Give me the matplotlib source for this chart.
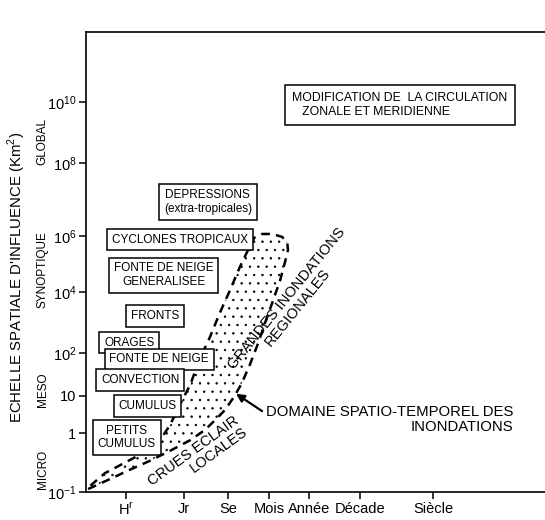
import numpy as np
import matplotlib
matplotlib.use("Agg")
import matplotlib.pyplot as plt
import matplotlib.transforms as mtransforms

plt.rcParams['font.family'] = ['Liberation Sans', 'DejaVu Sans']
plt.rcParams['hatch.linewidth'] = 0.5

# ---------------------------------------------------------------------------
# Data
# ---------------------------------------------------------------------------
# time axis: durations in hours, plotted as log10(h)
time_labels = [r'H$^{\mathregular{r}}$', 'Jr', 'Se', 'Mois', 'Année', 'Décade', 'Siècle']
time_hours = [1, 24, 168, 720, 8760, 87600, 876000]

# space axis: exponent of the area (km2)
space_exps = [-1, 0, 1, 2, 4, 6, 8, 10]
space_labels = [r'$\mathregular{10^{-1}}$', '1', '10', r'$\mathregular{10^{2}}$',
                r'$\mathregular{10^{4}}$', r'$\mathregular{10^{6}}$',
                r'$\mathregular{10^{8}}$', r'$\mathregular{10^{10}}$']
scale_names = ['GLOBAL', 'SYNOPTIQUE', 'MESO', 'MICRO']
scale_exps = [8.69, 4.79, 1.14, -0.62]

# the hand-drawn axes are irregular: where each tick sits along the axis (fraction)
x_limits = [-0.95, 7.48]
x_drawn = [0.0, 0.087, 0.2135, 0.309, 0.399, 0.486, 0.597, 0.756, 1.0]
y_limits = [-1, 12.33]
y_drawn = [0.0, 0.128, 0.209, 0.302, 0.435, 0.557, 0.715, 0.848, 1.0]

# phenomena (log10 h, log10 km2)
phen_labels = ['DEPRESSIONS\n(extra-tropicales)', 'CYCLONES TROPICAUX',
               'FONTE DE NEIGE\nGENERALISEE', 'FRONTS', 'ORAGES', 'FONTE DE NEIGE',
               'CONVECTION', 'CUMULUS', 'PETITS\nCUMULUS']
phen_logt = [1.84, 1.28, 0.90, 0.69, 0.08, 0.79, 0.34, 0.51, 0.02]
phen_logkm2 = [6.93, 5.86, 4.59, 3.21, 2.34, 1.85, 1.37, 0.73, -0.075]

# flood domain envelope (log10 h, log10 km2)
env_logt = [-0.90, -0.38, 0.10, 0.57, 1.05, 1.50, 1.78, 1.98, 2.17, 2.33, 2.44, 2.56,
            2.69, 2.80, 2.97, 3.16, 3.29, 3.37, 3.35, 3.21, 2.94, 2.75, 2.63, 2.55,
            2.41, 2.26, 2.07, 1.88, 1.69, 1.50, 1.28, 1.05, 0.81, 0.45, -0.02, -0.50,
            -0.81]
env_logkm2 = [-0.95, -0.78, -0.62, -0.47, -0.30, -0.12, 0.08, 0.35, 0.62, 1.00, 1.30,
              1.72, 2.33, 3.02, 3.74, 4.43, 5.07, 5.50, 5.75, 5.96, 6.05, 6.05, 5.93,
              5.57, 4.89, 4.07, 3.31, 2.52, 1.88, 1.26, 0.76, 0.22, -0.12, -0.32,
              -0.50, -0.68, -0.87]

# ---------------------------------------------------------------------------
# Scales
# ---------------------------------------------------------------------------
time_pos = np.log10(time_hours)
x_knots = np.concatenate([[x_limits[0]], time_pos, [x_limits[1]]])
y_knots = np.array(space_exps + [y_limits[1]], dtype=float)
x_drawn = np.array(x_drawn)
y_drawn = np.array(y_drawn)

def fwd_x(v):
    return np.interp(v, x_knots, x_drawn)

def inv_x(v):
    return np.interp(v, x_drawn, x_knots)

def fwd_y(v):
    return np.interp(v, y_knots, y_drawn)

def inv_y(v):
    return np.interp(v, y_drawn, y_knots)

# ---------------------------------------------------------------------------
# Figure
# ---------------------------------------------------------------------------
fig = plt.figure(figsize=(5.45, 5.2), dpi=100)
ax = fig.add_axes([86 / 545, 28 / 520, 459 / 545, 460 / 520])
ax.set_xscale('function', functions=(fwd_x, inv_x))
ax.set_yscale('function', functions=(fwd_y, inv_y))
ax.set_xlim(*x_limits)
ax.set_ylim(*y_limits)

ax.spines['right'].set_visible(False)
for s in ('left', 'bottom', 'top'):
    ax.spines[s].set_linewidth(1.2)

ax.set_xticks(time_pos)
ax.set_xticklabels(time_labels)
ax.set_yticks(space_exps)
ax.set_yticklabels(space_labels)
ax.xaxis.set_minor_locator(matplotlib.ticker.NullLocator())
ax.yaxis.set_minor_locator(matplotlib.ticker.NullLocator())
ax.tick_params(axis='both', direction='out', length=5, width=1.1,
               labelsize=10.5, pad=2)

ax.set_ylabel(r"ECHELLE SPATIALE D'INFLUENCE (Km$^{\mathregular{2}}$)", fontsize=10.8)
ax.yaxis.set_label_coords(-0.126, 0.467)

# scale names next to the y axis
trans = mtransforms.blended_transform_factory(ax.transAxes, ax.transData)
for name, y in zip(scale_names, scale_exps):
    ax.text(-0.094, y, name, transform=trans, rotation=90, fontsize=8.5,
            ha='center', va='center')

# flood domain (dashed, stippled)
ax.fill(env_logt, env_logkm2, facecolor='none', edgecolor='black', hatch='..',
        linestyle=(0, (3.5, 2.5)), linewidth=1.8, zorder=2)

# phenomena boxes
for txt, x, y in zip(phen_labels, phen_logt, phen_logkm2):
    ax.text(x, y, txt, ha='center', va='center', fontsize=8.5,
            multialignment='center', zorder=4,
            bbox=dict(boxstyle='square,pad=0.4', fc='white', ec='black', lw=1.1))

ax.text(5.49, 9.90, 'MODIFICATION DE  LA CIRCULATION\n   ZONALE ET MERIDIENNE',
        ha='center', va='center', fontsize=8.8, multialignment='left', zorder=4,
        bbox=dict(boxstyle='square,pad=0.6', fc='white', ec='black', lw=1.1))

# domain labels
ax.text(3.48, 3.64, 'GRANDES INONDATIONS\nREGIONALES', rotation=51,
        ha='center', va='center', fontsize=10.5, multialignment='center',
        linespacing=1.0)
ax.text(1.65, -0.40, 'CRUES ECLAIR\nLOCALES', rotation=36,
        ha='center', va='center', fontsize=10.5, multialignment='right',
        linespacing=1.0)

ax.annotate('', xy=(2.35, 1.05), xytext=(2.75, 0.59),
            arrowprops=dict(arrowstyle='-|>', color='black', lw=1.6,
                            mutation_scale=12, shrinkA=0, shrinkB=0))
ax.text(7.04, 0.36, 'DOMAINE SPATIO-TEMPOREL DES\nINONDATIONS', ha='right',
        va='center', fontsize=10.7, multialignment='right', linespacing=1.05)

fig.savefig('out.png', dpi=100)
